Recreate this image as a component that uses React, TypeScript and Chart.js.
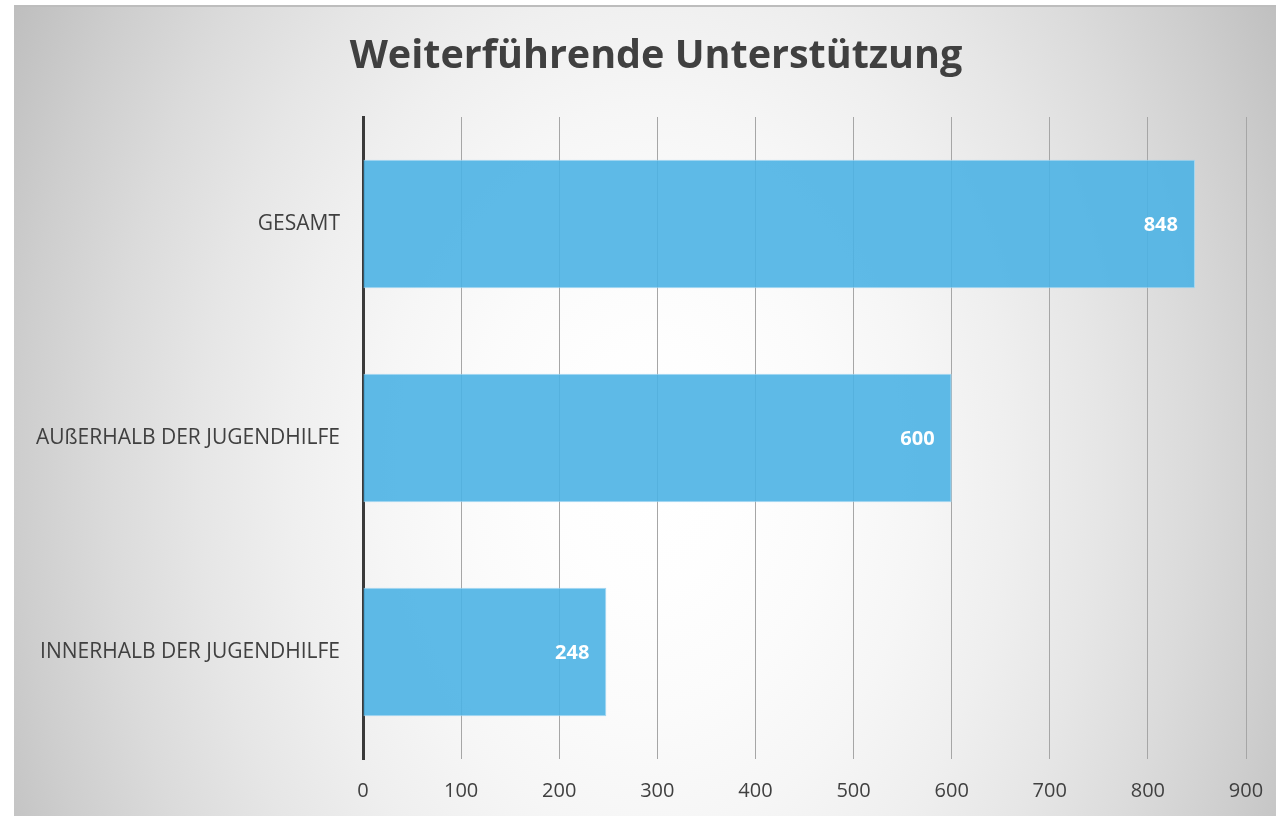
import React, { useEffect, useRef } from "react";
import { Chart, registerables } from "chart.js";

Chart.register(...registerables);

const TITLE = "Weiterführende Unterstützung";
const categories = ["GESAMT", "AUßERHALB DER JUGENDHILFE", "INNERHALB DER JUGENDHILFE"];
const values = [848, 600, 248];
const xMin = 0;
const xMax = 900;
const xStep = 100;

const W = 1262;
const H = 811;
const FONT = "'Open Sans', 'DejaVu Sans', sans-serif";
const TEXT = "#404040";

const bgPlugin = {
  id: "bgPlugin",
  beforeDraw(chart: any) {
    const ctx = chart.ctx;
    const cx = 636;
    const cy = 465;
    const sy = 1.336;
    const R = 900;
    ctx.save();
    ctx.translate(cx, cy);
    ctx.scale(1, sy);
    const g = ctx.createRadialGradient(0, 0, 0, 0, 0, R);
    for (let i = 0; i <= 10; i++) {
      const t = i / 10;
      const v = Math.round(255 - 100 * t * t);
      g.addColorStop(t, `rgb(${v},${v},${v})`);
    }
    ctx.fillStyle = g;
    ctx.fillRect(-cx, -cy / sy, chart.width, chart.height / sy + 10);
    ctx.restore();
    ctx.save();
    ctx.strokeStyle = "#bdbdbd";
    ctx.lineWidth = 2;
    ctx.beginPath();
    ctx.moveTo(0, 1);
    ctx.lineTo(chart.width, 1);
    ctx.stroke();
    ctx.restore();
  },
};

const titlePlugin = {
  id: "titlePlugin",
  afterDraw(chart: any) {
    const ctx = chart.ctx;
    ctx.save();
    ctx.font = `bold 39.5px ${FONT}`;
    ctx.fillStyle = TEXT;
    ctx.textAlign = "center";
    ctx.textBaseline = "alphabetic";
    ctx.fillText(TITLE, 642, 63);
    ctx.restore();
  },
};

const labelPlugin = {
  id: "labelPlugin",
  afterDatasetsDraw(chart: any) {
    const ctx = chart.ctx;
    const meta = chart.getDatasetMeta(0);
    ctx.save();
    ctx.font = `bold 20px ${FONT}`;
    ctx.fillStyle = "#ffffff";
    ctx.textAlign = "right";
    ctx.textBaseline = "middle";
    meta.data.forEach((el: any, i: number) => {
      ctx.fillText(String(values[i]), el.x - 17, el.y + 1);
    });
    ctx.restore();
  },
};

export default function App() {
  const ref = useRef<HTMLCanvasElement | null>(null);

  useEffect(() => {
    if (!ref.current) return;
    const chart = new Chart(ref.current, {
      type: "bar",
      data: {
        labels: categories,
        datasets: [
          {
            data: values,
            backgroundColor: "rgba(76,178,228,0.9)",
            borderColor: "rgba(160,214,242,0.95)",
            borderWidth: 1,
            barPercentage: 0.6,
            categoryPercentage: 1,
          },
        ],
      },
      options: {
        indexAxis: "y",
        animation: false,
        responsive: false,
        devicePixelRatio: 1,
        layout: { padding: { left: 0, right: 30, top: 112, bottom: 15 } },
        plugins: {
          legend: { display: false },
          title: { display: false },
          tooltip: { enabled: false },
        },
        scales: {
          x: {
            min: xMin,
            max: xMax,
            ticks: {
              stepSize: xStep,
              color: TEXT,
              font: { family: FONT, size: 20 },
              padding: 20,
            },
            grid: { display: true, color: "#a6a6a6", lineWidth: 1, drawTicks: false },
            border: { display: false },
            afterFit(scale: any) {
              scale.height = 42;
              scale.paddingRight = 0;
              scale.paddingLeft = 0;
            },
          },
          y: {
            ticks: {
              color: TEXT,
              font: { family: FONT, size: 21 },
              padding: 23,
            },
            grid: { display: false, drawTicks: false },
            border: { display: true, color: "#3a3a3a", width: 3 },
            afterFit(scale: any) {
              scale.width = 349;
            },
          },
        },
      },
      plugins: [bgPlugin, titlePlugin, labelPlugin],
    });
    return () => chart.destroy();
  }, []);

  return (
    <div style={{ position: "absolute", left: 14, top: 5, width: W, height: H }}>
      <canvas ref={ref} width={W} height={H} style={{ display: "block" }} />
    </div>
  );
}
